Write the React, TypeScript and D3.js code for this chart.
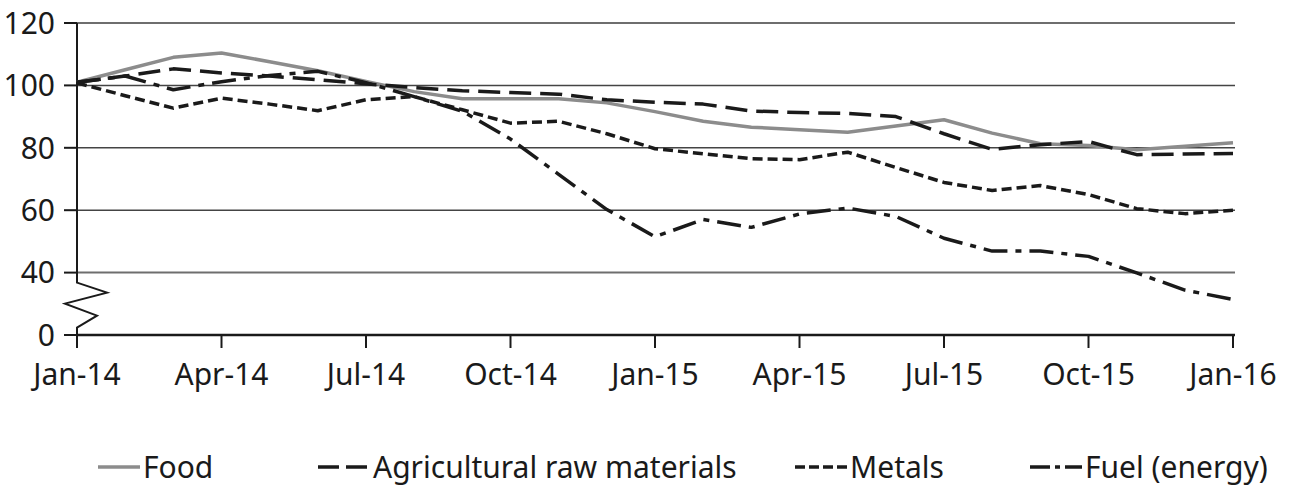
import * as d3 from "d3";
import { useEffect, useRef } from "react";

const months = d3.timeMonths(new Date(2014, 0, 1), new Date(2016, 0, 2));

const food = [101, 105, 109, 110.4, 107.6, 104.7, 101.3, 98, 95.7, 95.7, 95.7, 94.4, 91.6, 88.5, 86.6, 85.8, 85, 87, 89, 84.7, 81.3, 80.7, 79.4, 80.5, 81.6];
const agri = [101, 103, 105.3, 104, 103, 101.8, 100.5, 99.3, 98.3, 97.7, 97.2, 95.4, 94.6, 94, 91.8, 91.3, 91, 90, 84.5, 79.5, 81, 82, 77.8, 78, 78.2];
const metals = [100.8, 96.7, 92.7, 95.9, 94, 91.9, 95.4, 96.4, 92.2, 87.9, 88.5, 84.5, 79.7, 78.1, 76.5, 76.2, 78.6, 73.7, 68.9, 66.3, 67.9, 65, 60.5, 58.9, 60];
const fuel = [101, 103, 98.6, 101.2, 103.2, 104.5, 100.9, 96.4, 91.7, 82.8, 71.5, 60.2, 51.5, 57, 54.5, 58.8, 60.7, 58, 51, 46.9, 46.9, 45.2, 39.9, 34.4, 31.4];

// the axis is broken: bottom tick (20) is labelled "0"
const yTicks = [20, 40, 60, 80, 100, 120];
const yTickLabels = ["0", "40", "60", "80", "100", "120"];

const series = [
	{ name: "Food", values: food, color: "#8c8c8c", dash: null, legendDash: null },
	{ name: "Agricultural raw materials", values: agri, color: "#1a1a1a", dash: "22,9", legendDash: "21,7" },
	{ name: "Metals", values: metals, color: "#1a1a1a", dash: "10,5", legendDash: "10,4" },
	{ name: "Fuel (energy)", values: fuel, color: "#1a1a1a", dash: "24,8,6,8", legendDash: "20,5,5,5" },
];

const legendX = [98, 318, 795, 1030];

function App() {
	const ref = useRef(null);

	useEffect(() => {
		const svg = d3.select(ref.current);
		svg.selectAll("*").remove();

		const left = 77;
		const right = 1233;
		const font = "'Noto Sans', sans-serif";
		const fontSize = 30;

		const x = d3.scalePoint().domain(months.map(d => +d)).range([left, right]);
		const y = d3.scaleLinear().domain([20, 120]).range([335, 23]);

		// gridlines
		svg.append("g").selectAll("line").data(yTicks.slice(1)).join("line")
			.attr("x1", left).attr("x2", right + 2)
			.attr("y1", d => y(d)).attr("y2", d => y(d))
			.attr("stroke", d => (d === 120 || d === 40 ? "#6e6e6e" : "#444"))
			.attr("stroke-width", d => (d === 120 || d === 40 ? 2 : 1.5));

		// y tick labels and ticks
		const yAxis = svg.append("g");
		yAxis.selectAll("line").data(yTicks).join("line")
			.attr("x1", left - 13).attr("x2", left)
			.attr("y1", d => y(d)).attr("y2", d => y(d))
			.attr("stroke", "#1a1a1a").attr("stroke-width", 2);
		yAxis.selectAll("text").data(yTicks).join("text")
			.attr("x", 55).attr("y", d => y(d)).attr("dy", "0.36em")
			.attr("text-anchor", "end").attr("font-family", font).attr("font-size", fontSize).attr("fill", "#1a1a1a")
			.text((d, i) => yTickLabels[i]);

		// y axis line with break
		const yb = y(40);
		const brk = [
			[left, y(120)], [left, yb + 10], [left + 30, yb + 20], [left - 12, yb + 31],
			[left + 20, yb + 43], [left, yb + 55], [left, y(20)],
		];
		svg.append("path").attr("d", d3.line()(brk)).attr("fill", "none").attr("stroke", "#1a1a1a").attr("stroke-width", 2);

		// x axis
		svg.append("line").attr("x1", left).attr("x2", right + 2).attr("y1", y(20)).attr("y2", y(20))
			.attr("stroke", "#1a1a1a").attr("stroke-width", 2.5);
		const xTicks = months.filter((d, i) => i % 3 === 0);
		const fmt = d3.timeFormat("%b-%y");
		svg.append("g").selectAll("line").data(xTicks).join("line")
			.attr("x1", d => x(+d)).attr("x2", d => x(+d))
			.attr("y1", y(20)).attr("y2", y(20) + 13)
			.attr("stroke", "#1a1a1a").attr("stroke-width", 2);
		svg.append("g").selectAll("text").data(xTicks).join("text")
			.attr("x", d => x(+d)).attr("y", 385)
			.attr("text-anchor", "middle").attr("font-family", font).attr("font-size", fontSize).attr("fill", "#1a1a1a")
			.text(d => fmt(d));

		// lines
		const line = d3.line().x((d, i) => x(+months[i])).y(d => y(d));
		series.forEach(s => {
			svg.append("path").datum(s.values)
				.attr("d", line)
				.attr("fill", "none")
				.attr("stroke", s.color)
				.attr("stroke-width", 3.5)
				.attr("stroke-dasharray", s.dash)
				.attr("stroke-linejoin", "round");
		});

		// legend
		const ly = 467;
		series.forEach((s, i) => {
			const lx = legendX[i];
			const len = i === 0 ? 42 : 52;
			svg.append("line").attr("x1", lx).attr("x2", lx + len).attr("y1", ly).attr("y2", ly)
				.attr("stroke", s.color).attr("stroke-width", 3.5).attr("stroke-dasharray", s.legendDash);
			svg.append("text").attr("x", lx + len + 3).attr("y", ly).attr("dy", "0.36em")
				.attr("font-family", font).attr("font-size", fontSize).attr("fill", "#1a1a1a")
				.text(s.name);
		});
	}, []);

	return <svg ref={ref} width={1291} height={487} style={{ position: "absolute", left: 0, top: 0, background: "#fff" }}></svg>;
}

export default App;
